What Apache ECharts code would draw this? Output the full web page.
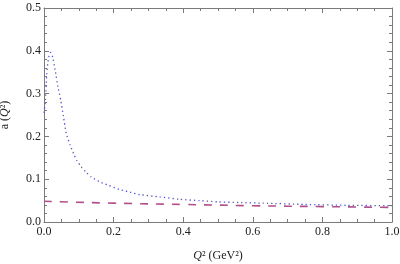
<!DOCTYPE html>
<html>
<head>
<meta charset="utf-8">
<script src="https://cdn.jsdelivr.net/npm/echarts@6/dist/echarts.min.js"></script>
<style>
html,body{margin:0;padding:0;background:#fff;}
#c{width:400px;height:264px;}
</style>
</head>
<body>
<div id="c"></div>
<script>
var blueX = [0, 0.004, 0.008, 0.011, 0.015, 0.019, 0.025, 0.032, 0.04, 0.048, 0.056, 0.064, 0.075, 0.085, 0.095, 0.107, 0.12, 0.136, 0.16, 0.184, 0.217, 0.25, 0.275, 0.332, 0.39, 0.447, 0.5, 0.56, 0.63, 0.75, 0.87, 1.0];
var blueY = [0.255, 0.285, 0.345, 0.372, 0.39, 0.396, 0.385, 0.355, 0.316, 0.285, 0.246, 0.207, 0.18, 0.16, 0.143, 0.129, 0.117, 0.105, 0.094, 0.086, 0.076, 0.069, 0.064, 0.0586, 0.053, 0.050, 0.047, 0.0455, 0.044, 0.041, 0.039, 0.038];
var pinkX = [0, 0.2, 0.4, 0.6, 0.8, 1.0];
var pinkY = [0.0485, 0.044, 0.041, 0.038, 0.036, 0.034];
var xTicks = ['0.0', '0.2', '0.4', '0.6', '0.8', '1.0'];
var yTicks = ['0.0', '0.1', '0.2', '0.3', '0.4', '0.5'];

function pairs(xs, ys) { return xs.map(function (x, i) { return [x, ys[i]]; }); }

var font = 'Liberation Serif';
var axisColor = '#7a7a7a';
function xAx(pos, showLabel) {
  return {
    type: 'value', position: pos, min: 0, max: 1, interval: 0.2,
    axisLine: { show: true, onZero: false, lineStyle: { color: axisColor, width: 1 } },
    axisTick: { show: true, inside: true, length: 5, lineStyle: { color: axisColor } },
    minorTick: { show: true, splitNumber: 4, length: 3, lineStyle: { color: axisColor } },
    splitLine: { show: false },
    axisLabel: { show: showLabel, margin: 4, color: '#222', fontFamily: font, fontSize: 12,
      formatter: function (v) { return xTicks[Math.round(v / 0.2)]; } }
  };
}
function yAx(pos, showLabel) {
  return {
    type: 'value', position: pos, min: 0, max: 0.5, interval: 0.1,
    axisLine: { show: true, onZero: false, lineStyle: { color: axisColor, width: 1 } },
    axisTick: { show: true, inside: true, length: 5, lineStyle: { color: axisColor } },
    minorTick: { show: true, splitNumber: 5, length: 3, lineStyle: { color: axisColor } },
    splitLine: { show: false },
    axisLabel: { show: showLabel, margin: 3, color: '#222', fontFamily: font, fontSize: 12,
      formatter: function (v) { return yTicks[Math.round(v / 0.1)]; } }
  };
}
var bx = xAx('bottom', true);
bx.name = '{i|Q}{n|² (GeV²)}';
bx.nameLocation = 'middle';
bx.nameGap = 28;
bx.nameTextStyle = { rich: { i: { fontFamily: font, fontStyle: 'italic', fontSize: 12, color: '#222' }, n: { fontFamily: font, fontSize: 12, color: '#222' } } };
var ly = yAx('left', true);
ly.name = '{n|a (}{i|Q}{n|²)}';
ly.nameLocation = 'middle';
ly.nameGap = 33;
ly.nameRotate = 90;
ly.nameTextStyle = { rich: { i: { fontFamily: font, fontStyle: 'italic', fontSize: 12, color: '#222' }, n: { fontFamily: font, fontSize: 12, color: '#222' } } };

var chart = echarts.init(document.getElementById('c'), null, { renderer: 'canvas' });
chart.setOption({
  animation: false,
  backgroundColor: '#fff',
  grid: { left: 44, right: 8, top: 8, bottom: 42, containLabel: false, outerBoundsMode: 'none' },
  xAxis: [bx, xAx('top', false)],
  yAxis: [ly, yAx('right', false)],
  series: [
    { type: 'line', xAxisIndex: 0, yAxisIndex: 0, data: pairs(pinkX, pinkY), smooth: true, symbol: 'none',
      lineStyle: { color: '#b0508a', width: 1.6, type: [8, 8] } },
    { type: 'line', xAxisIndex: 0, yAxisIndex: 0, data: pairs(blueX, blueY), smooth: 0.2, symbol: 'none',
      lineStyle: { color: '#5555c0', width: 1.3, type: [1.3, 3] } }
  ]
});
</script>
</body>
</html>
